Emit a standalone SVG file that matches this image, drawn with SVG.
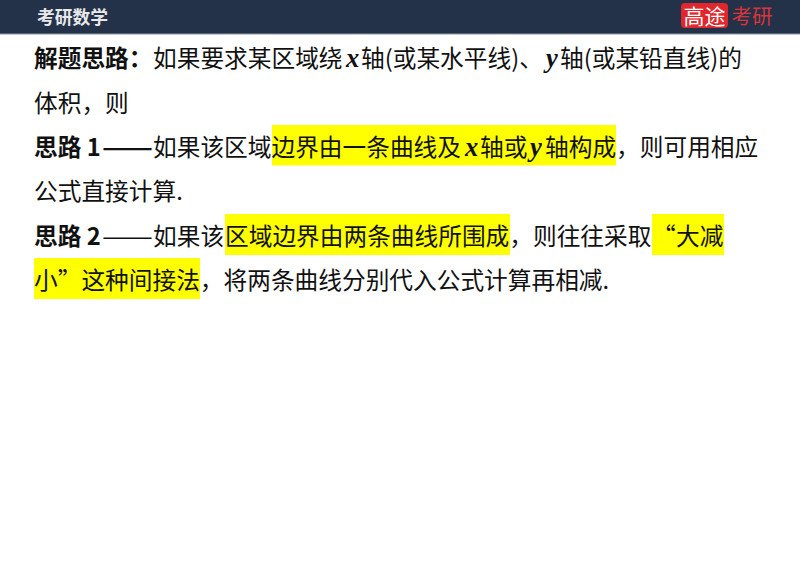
<svg xmlns="http://www.w3.org/2000/svg" width="800" height="566" viewBox="0 0 800 566">
<style>
text{font-family:"Noto Sans CJK SC","Noto Sans",sans-serif;font-size:23.7px;fill:#111}
.b{font-weight:700}
.m{font-family:"Liberation Serif",serif;font-style:italic;font-weight:700;font-size:26.500px}
.h{fill:#ffff00}
</style>
<rect width="800" height="566" fill="#fff"/>
<g id="header">
<rect width="800" height="34" fill="#243249"/>
<rect y="33.500" width="800" height="1" fill="#8a94a6"/>
<text x="37" y="24" class="b" style="font-size:17.800px;fill:#e8e8ea">考研数学</text>
<rect x="681" y="3" width="47" height="25" rx="4" fill="#e1272d"/>
<text x="683.500" y="23.500" style="font-size:21px;fill:#fff">高途</text>
<text x="731.500" y="23.500" style="font-size:20.500px;fill:#d8343a">考研</text>
</g>
<g id="highlights">
<rect class="h" x="272" y="125" width="344" height="40.500"/>
<rect class="h" x="225" y="214" width="285" height="41"/>
<rect class="h" x="652" y="214" width="72" height="41"/>
<rect class="h" x="34" y="258" width="166" height="41"/>
</g>
<g id="text">
<text x="34" y="67" class="b">解题思路：</text>
<text x="153" y="67">如果要求某区域绕</text>
<text x="346" y="67" class="m">x</text>
<text x="361" y="67">轴(或某水平线)、</text>
<text x="546" y="67" class="m">y</text>
<text x="560" y="67">轴(或某铅直线)的</text>
<text x="34" y="112">体积，则</text>
<text x="34" y="156" class="b">思路 1</text>
<text x="102" y="156" class="b" textLength="51" lengthAdjust="spacingAndGlyphs">——</text>
<text x="153" y="156">如果该区域边界由一条曲线及</text>
<text x="465" y="156" class="m">x</text>
<text x="480" y="156">轴或</text>
<text x="530" y="156" class="m">y</text>
<text x="545" y="156">轴构成，则可用相应</text>
<text x="34" y="200">公式直接计算.</text>
<text x="34" y="245" class="b">思路 2</text>
<text x="102" y="245" textLength="51" lengthAdjust="spacingAndGlyphs">——</text>
<text x="153" y="245">如果该</text>
<text x="225" y="245">区域边界由两条曲线所围成，则往往采取</text>
<text x="652" y="245">“</text>
<text x="676" y="245">大减</text>
<text x="34" y="289">小”这种间接法，将两条曲线分别代入公式计算再相减.</text>
</g>
</svg>
